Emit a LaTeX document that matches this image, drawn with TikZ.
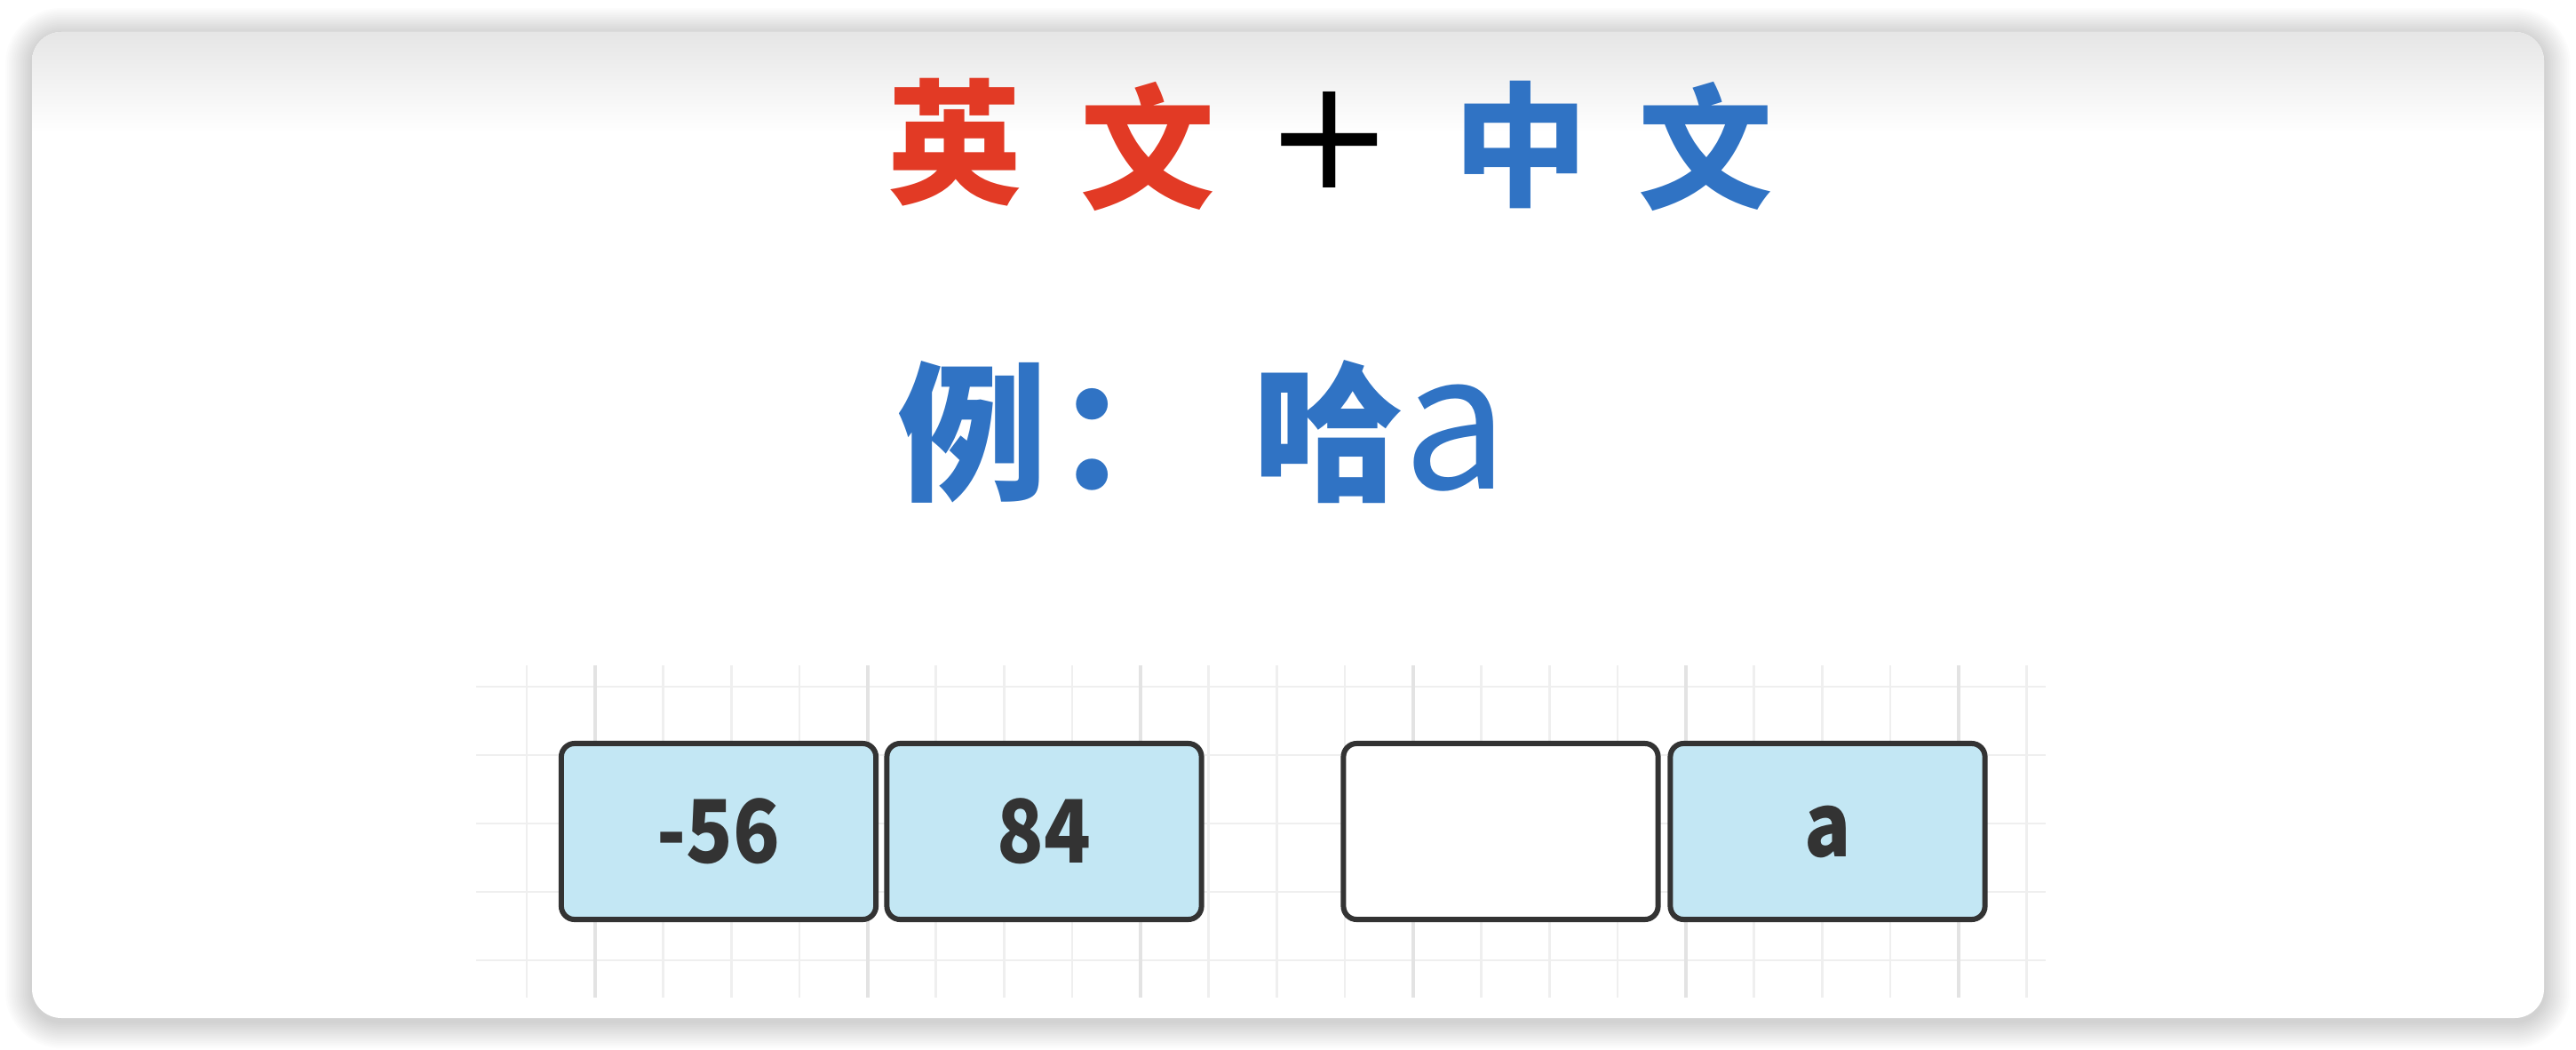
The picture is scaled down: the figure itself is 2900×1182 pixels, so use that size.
\documentclass[tikz,border=0pt]{standalone}
\usepackage{fontspec}
\newfontfamily\cjk{Noto Sans CJK SC}
\newfontfamily\cellfont{Noto Sans CJK SC}[FakeStretch=0.88]
\newfontfamily\dejavu{DejaVu Sans}
\definecolor{tred}{HTML}{E23A25}
\definecolor{tblue}{HTML}{3073C4}
\definecolor{boxfill}{HTML}{C3E7F4}
\definecolor{boxline}{HTML}{333333}
\definecolor{gridminor}{HTML}{EFEFEF}
\definecolor{gridmajor}{HTML}{E3E3E3}
\begin{document}
\begin{tikzpicture}[x=0.01cm,y=-0.01cm,
  cell/.style={draw=boxline, line width=1.7pt, rounded corners=0.15cm,
    minimum width=3.54cm, minimum height=1.98cm, inner sep=0pt,
    font=\cellfont\bfseries\fontsize{28}{28}\selectfont, text=boxline},
  fullcell/.style={cell, fill=boxfill},
  blankcell/.style={cell, fill=white},
  titlechar/.style={inner sep=0pt, font=\cjk\bfseries\fontsize{43}{43}\selectfont},
  exampletext/.style={inner sep=0pt, anchor=base west, text=tblue,
    font=\cjk\bfseries\fontsize{48}{48}\selectfont},
  minorline/.style={draw=gridminor, line width=0.8pt},
  majorline/.style={draw=gridmajor, line width=0.9pt}]
\useasboundingbox (0,0) rectangle (2900,1182);
\fill[white] (0,0) rectangle (2900,1182);
% soft shadow
\foreach \i [evaluate=\i as \rr using 0.33+0.02*\i] in {1,...,15}{
  \fill[black, opacity=0.011, rounded corners=\rr cm]
    ({36-2*\i},{39-2*\i}) rectangle ({2864+2*\i},{1150+2*\i});
}
% card
\fill[white, rounded corners=0.33cm] (36,36) rectangle (2864,1146);
\begin{scope}
  \clip[rounded corners=0.33cm] (36,36) rectangle (2864,1146);
  \shade[top color=black!10, bottom color=white] (36,36) rectangle (2864,150);
\end{scope}
% grid
\foreach \k in {0,...,22}{
  \draw[minorline] ({593+76.75*\k},749) -- ({593+76.75*\k},1123);
}
\foreach \k in {0,...,4}{
  \draw[minorline] (536,{773+77*\k}) -- (2303,{773+77*\k});
}
\foreach \k in {0,...,5}{
  \draw[majorline] ({670+307*\k},749) -- ({670+307*\k},1123);
}
% title
\node[titlechar, text=tred] (t1) at (1075,160) {英};
\node[titlechar, text=tred] (t2) at (1292,165) {文};
\node[inner sep=0pt, font=\dejavu\fontsize{49}{49}\selectfont] (plus) at (1497,157) {+};
\node[titlechar, text=tblue] (t3) at (1712,163) {中};
\node[titlechar, text=tblue] (t4) at (1920,165) {文};
% example
\node[exampletext] (ex1) at (1010,550) {例\hspace{0.08cm}：};
\node[exampletext] (ex2) at (1410,550) {哈{\mdseries\fontsize{60}{60}\selectfont a}};
% cells
\node[fullcell] (c1) at (809,936) {-56};
\node[fullcell] (c2) at (1175.5,936) {84};
\node[blankcell] (c3) at (1689.5,936) {};
\node[fullcell] (c4) at (2057.5,936) {a};
\end{tikzpicture}
\end{document}
